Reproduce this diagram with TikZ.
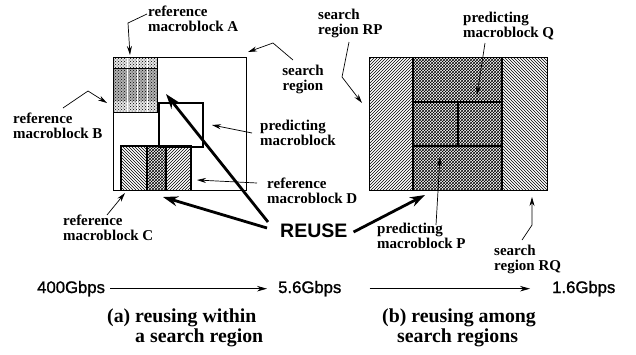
\documentclass[tikz,border=0pt]{standalone}
\usepackage{fontspec}
\setmainfont{Liberation Serif}
\newfontfamily\hel{Liberation Sans}
\newfontfamily\helm[FakeBold=1.2]{Liberation Sans}
\usetikzlibrary{arrows.meta,patterns}
\tikzset{
  lbl/.style={font=\fontsize{15}{15}\selectfont\bfseries, align=left, inner sep=0pt, anchor=base west},
  lblc/.style={font=\fontsize{15}{15}\selectfont\bfseries, align=center, inner sep=0pt, anchor=base},
  capt/.style={font=\fontsize{19.8}{20}\selectfont\bfseries, align=left, inner sep=0pt, anchor=base west},
  rate/.style={font=\helm\fontsize{16.7}{18}\selectfont, inner sep=0pt, anchor=base west},
  reusef/.style={font=\hel\bfseries\fontsize{19.5}{20}\selectfont, inner sep=0pt, anchor=base west},
  ptr/.style={line width=0.7pt, -{Stealth[length=9pt,width=5pt]}},
  bigarrow/.style={line width=2.8pt, -{Stealth[length=15pt,width=10pt]}},
  ratearrow/.style={line width=0.7pt, -{Stealth[length=10pt,width=5.5pt]}},
  ne/.style={pattern=north east lines},
  nw/.style={pattern=north west lines},
  xh/.style={pattern=crosshatch},
  dotsA/.style={pattern=crosshatch dots},
  box/.style={draw, line width=1.2pt},
}
\begin{document}
\begin{tikzpicture}[x=1pt,y=-1pt]
\useasboundingbox (0,0) rectangle (636,354);

% ---------- left diagram ----------
\fill[gray!20] (113,57) rectangle (157,112);
\fill[dotsA] (113,57) rectangle (157,68);
\fill[dotsA] (113,101) rectangle (157,112);
\fill[gray!60] (113,68) rectangle (157,101);
\fill[dotsA] (113,68) rectangle (157,101);
\foreach \xx in {127,137,147} \draw[white, line width=0.8pt] (\xx,57) -- (\xx,112);
\draw[line width=0.9pt] (113,68) -- (157,68);
\draw[line width=0.9pt] (113,112) -- (157,112) -- (157,57);

\fill[nw] (121,146) rectangle (147,190);
\fill[xh] (147,146) rectangle (166,190);
\fill[ne] (166,146) rectangle (191,190);
\draw[line width=1.2pt] (121,190) -- (121,146) -- (191,146) -- (191,190);
\draw[line width=1.6pt] (147,146) -- (147,190) (166,146) -- (166,190);

\node[box, minimum width=133pt, minimum height=133pt, inner sep=0pt, anchor=north west] (sr) at (113,57) {};
\node[draw, line width=1.8pt, minimum width=44pt, minimum height=44pt, inner sep=0pt, anchor=north west] (pm) at (158,102) {};

% ---------- right diagram ----------
\fill[ne] (369,57) rectangle (413,190);
\fill[xh] (413,57) rectangle (502,190);
\fill[nw] (502,57) rectangle (547,190);
\node[box, minimum width=178pt, minimum height=133pt, inner sep=0pt, anchor=north west] (rr) at (369,57) {};
\draw[line width=1.5pt] (413,57) -- (413,190) (502,57) -- (502,190);
\draw[line width=1.5pt] (413,102) -- (502,102) (413,146) -- (502,146);
\draw[line width=2pt] (458,102) -- (458,146);

% ---------- labels (base = last line) ----------
\node[lbl] (refA) at (148,31.5) {reference\\macroblock A};
\node[lblc] (srch) at (303,90) {search\\region};
\node[lbl] (refB) at (13,138) {reference\\macroblock B};
\node[lbl] (predM) at (260,145) {predicting\\macroblock};
\node[lbl] (refD) at (267,203) {reference\\macroblock D};
\node[lbl] (refC) at (63,240) {reference\\macroblock C};
\node[lbl] (rp) at (318,34.5) {search\\region RP};
\node[lbl] (pq) at (463,37.5) {predicting\\macroblock Q};
\node[lbl] (pp) at (377,248) {predicting\\macroblock P};
\node[lbl] (rq) at (494,270) {search\\region RQ};
\node[reusef] (reuse) at (280,237) {REUSE};

% ---------- thin pointers ----------
\coordinate (tA) at (130,55);
\coordinate (tS) at (248,52);
\coordinate (tB) at (107,103);
\coordinate (tM) at (212,125);
\coordinate (tD) at (197,180);
\coordinate (tC) at (125,193);
\coordinate (tRP) at (362,103);
\coordinate (tQ) at (477,95);
\coordinate (tP) at (440,157);
\coordinate (tRQ) at (532,197);
\draw[ptr] ([shift={(-1,-17.5)}]refA.base west) -- (128,23) -- (tA);
\draw[ptr] ([shift={(-10,-30)}]srch.base) -- (273,43) -- (tS);
\draw[ptr] ([shift={(50,-30)}]refB.base west) -- (88,91) -- (tB);
\draw[ptr] ([shift={(-8,-12)}]predM.base west) -- (tM);
\draw[ptr] ([shift={(-10,-20)}]refD.base west) -- (tD);
\draw[ptr] ([shift={(44,-25)}]refC.base west) -- (tC);
\draw[ptr] ([shift={(31,7.5)}]rp.base west) -- (342,77) -- (tRP);
\draw[ptr] ([shift={(22,5.5)}]pq.base west) -- (tQ);
\draw[ptr] ([shift={(59,-23)}]pp.base west) -- (tP);
\draw[ptr] ([shift={(28,-30)}]rq.base west) -- (532,225) -- (tRQ);

% ---------- REUSE arrows ----------
\coordinate (u1) at (166,94);
\coordinate (u2) at (163,197);
\coordinate (u3) at (425,195);
\draw[bigarrow] ([shift={(-12,-15)}]reuse.base west) -- (u1);
\draw[bigarrow] ([shift={(-13,-9)}]reuse.base west) -- (u2);
\draw[bigarrow] ([shift={(6,-5)}]reuse.base east) -- (u3);

% ---------- bottom ----------
\node[rate] (g400) at (37,293) {400Gbps};
\node[rate] (g56) at (278,293) {5.6Gbps};
\node[rate] (g16) at (552,293) {1.6Gbps};
\draw[ratearrow] ([xshift=5pt]g400.east) -- ([xshift=-11pt]g56.west);
\draw[ratearrow] ([xshift=28pt]g56.east) -- ([xshift=-22pt]g16.west);

\node[capt] (ca) at (107,342) {(a) reusing within\\\hspace*{28pt}a search region};
\node[capt] (cb) at (382,342) {(b) reusing among\\\hspace*{15pt}search regions};
\end{tikzpicture}
\end{document}
